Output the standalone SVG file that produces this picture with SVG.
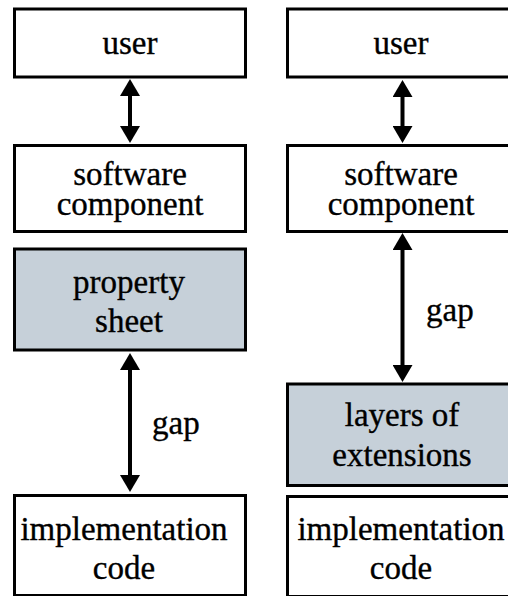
<svg xmlns="http://www.w3.org/2000/svg" width="508" height="596" viewBox="0 0 508 596">
  <style>
    .box { fill: #ffffff; stroke: #000000; stroke-width: 3; }
    .shaded { fill: #c6d0d9; }
    text { font-family: "Liberation Serif", "Times New Roman", serif; font-size: 33px; fill: #000000; stroke: #000000; stroke-width: 0.35; text-anchor: middle; }
    .side { text-anchor: start; }
    .link { stroke: #000000; stroke-width: 4; fill: none; marker-start: url(#head); marker-end: url(#head); }
  </style>
  <defs>
    <marker id="head" viewBox="0 0 17 20" markerWidth="17" markerHeight="20" refX="9" refY="10" orient="auto-start-reverse" markerUnits="userSpaceOnUse">
      <path d="M0,0 L17,10 L0,20 z" fill="#000000"/>
    </marker>
  </defs>
  <rect width="508" height="596" fill="#ffffff"/>

  <!-- left stack: component with a property sheet -->
  <g id="left-user">
    <rect class="box" x="14.5" y="9" width="231" height="68"/>
    <text x="130" y="54">user</text>
  </g>
  <g id="left-software-component">
    <rect class="box" x="14.5" y="145.5" width="231" height="86"/>
    <text x="130" y="185">software</text>
    <text x="130" y="215">component</text>
  </g>
  <g id="left-property-sheet">
    <rect class="box shaded" x="14.5" y="249" width="231" height="101"/>
    <text x="129" y="293">property</text>
    <text x="129" y="332">sheet</text>
  </g>
  <g id="left-implementation-code">
    <rect class="box" x="14.5" y="495.5" width="231" height="100"/>
    <text x="124" y="540">implementation</text>
    <text x="124" y="579">code</text>
  </g>

  <!-- right stack: component with layers of extensions -->
  <g id="right-user">
    <rect class="box" x="287.5" y="9" width="230" height="68"/>
    <text x="401" y="54">user</text>
  </g>
  <g id="right-software-component">
    <rect class="box" x="287.5" y="145.5" width="230" height="86"/>
    <text x="401" y="185">software</text>
    <text x="401" y="215">component</text>
  </g>
  <g id="right-layers-of-extensions">
    <rect class="box shaded" x="287.5" y="384" width="230" height="101.5"/>
    <text x="402" y="426">layers of</text>
    <text x="402" y="466">extensions</text>
  </g>
  <g id="right-implementation-code">
    <rect class="box" x="287.5" y="496.5" width="230" height="100"/>
    <text x="401" y="540">implementation</text>
    <text x="401" y="579">code</text>
  </g>

  <!-- connectors -->
  <g id="connectors">
    <line class="link" x1="130" y1="87" x2="130" y2="135"/>
    <line class="link" x1="130" y1="361" x2="130" y2="484"/>
    <text class="side" x="152" y="434">gap</text>
    <line class="link" x1="402.5" y1="88" x2="402.5" y2="135"/>
    <line class="link" x1="402.5" y1="241" x2="402.5" y2="374"/>
    <text class="side" x="426" y="321">gap</text>
  </g>
</svg>
